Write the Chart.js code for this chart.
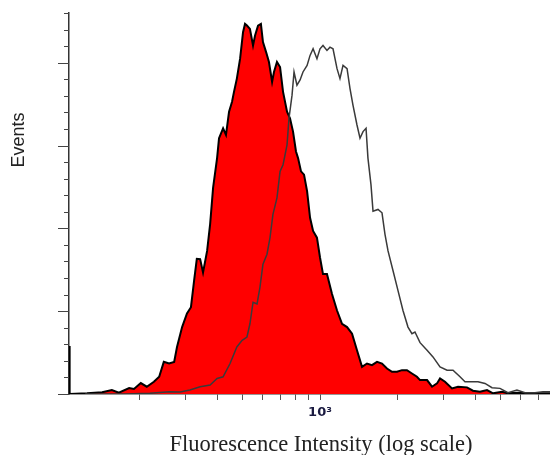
<!DOCTYPE html>
<html>
<head>
<meta charset="utf-8">
<script src="https://cdn.jsdelivr.net/npm/chart.js@4.4.1/dist/chart.umd.min.js"></script>
<style>
  html, body { margin: 0; padding: 0; background: #fff; }
  #wrap { width: 550px; height: 455px; }
</style>
</head>
<body>
<div id="wrap"><canvas id="histo" width="550" height="455"></canvas></div>
<script>
// control (filled red) histogram - intensity / events
const controlX = [106.4, 107, 125, 143, 156, 166, 182, 190, 202, 213, 227, 238, 248, 260, 272, 279, 292, 305, 316, 325, 333, 343, 352, 365, 375, 385, 399, 406, 421, 432, 444, 456, 464, 476, 490, 503, 512, 521, 535, 550, 560, 575, 590, 601, 618, 634, 652, 663, 681, 700, 719, 745, 765, 786, 807, 822, 844, 867, 891, 915, 940, 973, 1000, 1027, 1064, 1113, 1164, 1217, 1273, 1331, 1391, 1455, 1521, 1590, 1663, 1739, 1818, 1901, 1988, 2078, 2173, 2272, 2376, 2442, 2600, 2718, 2842, 2919, 3052, 3248, 3427, 3713, 3917, 4170, 4440, 4686, 5075, 5352, 5800, 6346, 7123, 7790];
const controlY = [29, 0, 0.4, 1, 2.4, 0.8, 3.6, 3, 6.6, 4.4, 7.4, 10.4, 19.4, 18.4, 19.4, 28.4, 40.4, 48.6, 52.4, 68.4, 81.6, 81.4, 73.4, 86.4, 102.6, 124.4, 142.4, 154.4, 160.4, 156.4, 170.4, 176.4, 182.4, 190.4, 202.4, 218.4, 223.4, 222.4, 220.4, 210.4, 216.4, 222.4, 223.4, 212.4, 206.4, 200.4, 188.4, 194.4, 200.4, 197.4, 182.4, 170.4, 166.4, 158.4, 146.4, 142.4, 134.4, 132.4, 122.4, 106.4, 98.4, 94.4, 82.4, 72.4, 72.4, 60.4, 50.4, 42.4, 40.4, 36.4, 26.4, 16.4, 18.4, 17.4, 19.4, 18.4, 15.4, 13.4, 13.4, 14.4, 14.4, 12.4, 10.4, 8.4, 8.4, 4.4, 6.4, 9.4, 7.4, 3.4, 4.4, 4, 2, 1.4, 2.4, 0.4, 1.4, 0.4, 0.8, 0.4, 0.4, 0.4];

// stained sample (open line) histogram
const stainedX = [123, 175, 219, 260, 287, 313, 343, 375, 399, 421, 448, 476, 499, 521, 535, 550, 570, 585, 601, 623, 640, 657, 681, 700, 719, 745, 758, 779, 793, 814, 837, 859, 891, 915, 940, 973, 1000, 1027, 1064, 1093, 1123, 1164, 1195, 1228, 1273, 1307, 1342, 1391, 1429, 1468, 1508, 1534, 1576, 1605, 1678, 1739, 1786, 1835, 1919, 2006, 2097, 2193, 2272, 2334, 2442, 2600, 2741, 2919, 3107, 3278, 3489, 3648, 3815, 4096, 4361, 4642, 4985, 5352, 5800, 6231, 6813, 7315, 7790];
const stainedY = [0, 0, 0.4, 1.4, 1.2, 2.4, 4.4, 5.4, 9.4, 10.4, 18.4, 28.4, 32.4, 34.4, 42.4, 55.4, 54.4, 64.4, 78.4, 84.4, 94.4, 108.4, 118.4, 134.4, 138.4, 150.4, 166.4, 180.4, 194.4, 186.4, 189.6, 194.4, 198.4, 204.4, 208.4, 202.4, 208.4, 210.4, 207.4, 209.4, 208.4, 196.4, 190.4, 198.4, 196.4, 184.4, 174.4, 162.4, 154.4, 158.4, 160.4, 142.4, 126.4, 110.4, 111.4, 109.4, 96.4, 86.4, 74.4, 62.4, 50.4, 40.4, 36.4, 37.4, 31, 26.4, 22.4, 16.4, 14.4, 14.4, 10.4, 7.4, 7.4, 7.4, 6.4, 3.8, 3.4, 0.8, 2.4, 0.8, 0.8, 1.4, 1.4];

// ticks
const xTickValues = [200, 300, 400, 500, 600, 700, 800, 900, 1000, 2000, 3000, 4000, 5000, 6000, 7000];
const xTickLabels = { 1000: '10\u00B3' };
const yTickValues = [0, 10, 20, 30, 40, 50, 60, 70, 80, 90, 100, 110, 120, 130, 140, 150, 160, 170, 180, 190, 200, 210, 220, 230];
const yMajorStep = 50;

const xTitle = 'Fluorescence Intensity (log scale)';
const yTitle = 'Events';

const toPoints = (xs, ys) => xs.map((x, i) => ({ x: x, y: ys[i] }));

// ticks on the y axis + axis titles (y ticks have two lengths)
const decorPlugin = {
  id: 'decor',
  afterDraw(chart) {
    const ctx = chart.ctx;
    const y = chart.scales.y;
    const left = chart.chartArea.left;
    ctx.save();
    ctx.strokeStyle = '#444';
    ctx.lineWidth = 1;
    yTickValues.forEach(v => {
      const py = Math.round(y.getPixelForValue(v)) + 0.5;
      const len = v % yMajorStep === 0 ? 11 : 5;
      ctx.beginPath();
      ctx.moveTo(left - len, py);
      ctx.lineTo(left, py);
      ctx.stroke();
    });

    ctx.fillStyle = '#222';
    ctx.font = '18px "Liberation Sans", Arial, sans-serif';
    ctx.textAlign = 'center';
    ctx.textBaseline = 'middle';
    ctx.translate(19, 140);
    ctx.rotate(-Math.PI / 2);
    ctx.fillText(yTitle, 0, 0);
    ctx.restore();

    ctx.save();
    ctx.fillStyle = '#222';
    ctx.font = '22.5px "Liberation Serif", "Times New Roman", serif';
    ctx.textAlign = 'center';
    ctx.textBaseline = 'alphabetic';
    ctx.fillText(xTitle, 321, 451);
    ctx.restore();
  }
};

new Chart(document.getElementById('histo'), {
  type: 'line',
  data: {
    datasets: [
      {
        label: 'stained',
        data: toPoints(stainedX, stainedY),
        borderColor: '#3a3a3a',
        borderWidth: 1.5,
        fill: false,
        pointRadius: 0,
        tension: 0,
        order: 0
      },
      {
        label: 'control',
        data: toPoints(controlX, controlY),
        borderColor: '#000',
        borderWidth: 2,
        backgroundColor: '#ff0000',
        fill: 'origin',
        pointRadius: 0,
        tension: 0,
        order: 1
      }
    ]
  },
  options: {
    responsive: false,
    animation: false,
    layout: { padding: { top: 13, left: 0, right: 0, bottom: 0 } },
    plugins: { legend: { display: false }, tooltip: { enabled: false } },
    scales: {
      x: {
        type: 'logarithmic',
        min: 106.4,
        max: 7790,
        afterBuildTicks: s => { s.ticks = xTickValues.map(v => ({ value: v })); },
        afterFit: s => { s.height = 61; },
        border: { display: true, color: '#333', width: 1.5 },
        grid: { display: true, drawOnChartArea: false, drawTicks: true, tickLength: 6, tickColor: '#555' },
        ticks: {
          autoSkip: false,
          maxRotation: 0,
          padding: 5,
          color: '#1a1a40',
          font: { family: '"DejaVu Sans", sans-serif', size: 13, weight: 'bold' },
          callback: v => xTickLabels[v] || ''
        }
      },
      y: {
        min: 0,
        max: 230,
        afterFit: s => { s.width = 69; },
        border: { display: true, color: '#333', width: 1.5 },
        grid: { display: false },
        ticks: { display: false }
      }
    }
  },
  plugins: [decorPlugin]
});
</script>
</body>
</html>
